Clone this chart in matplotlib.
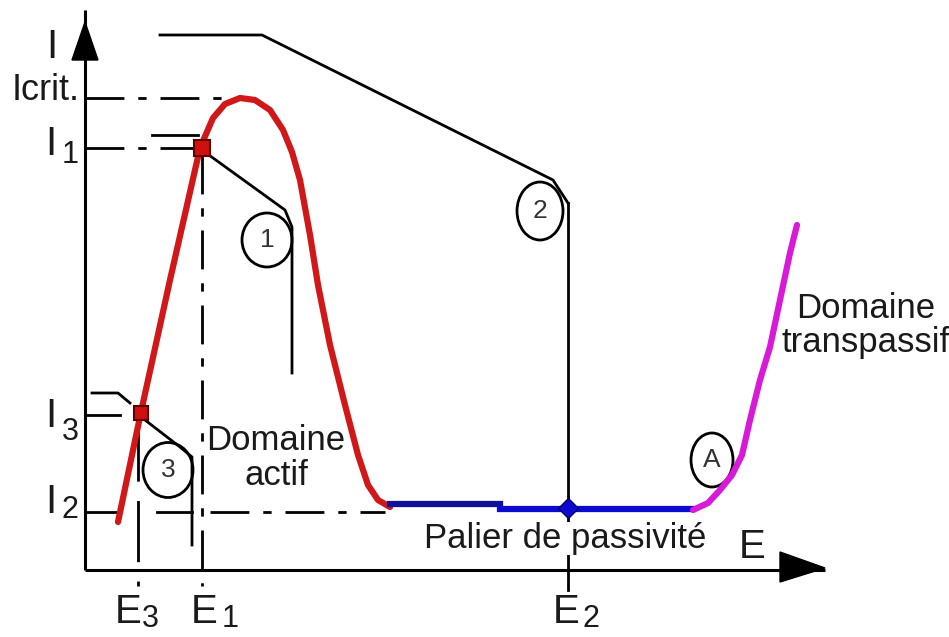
import matplotlib
matplotlib.use("Agg")
import matplotlib.pyplot as plt
from matplotlib.patches import Ellipse, Polygon

plt.rcParams['font.family'] = ['Liberation Sans', 'DejaVu Sans']

# courbe de polarisation (E en abscisse, I en ordonnée, unités arbitraires)
actif_E = [33, 56, 85, 115, 128, 140, 155, 170, 185, 198, 207, 215, 225, 233, 245, 260, 273, 283, 293, 305]
actif_I = [48, 158, 290, 422, 452, 466, 472, 470, 460, 440, 418, 390, 335, 285, 225, 165, 115, 85, 70, 63]

passif_E1 = [305, 415]
passif_I1 = [66, 66]
passif_E2 = [415, 608]
passif_I2 = [61, 61]

transp_E = [608, 623, 635, 647, 657, 665, 675, 685, 695, 705, 712]
transp_I = [60, 67, 80, 95, 115, 150, 190, 223, 270, 317, 345]

# niveaux caractéristiques
I_crit = 472
I_1 = 422
I_2 = 58
I_3 = 155
E_1 = 117
E_2 = 483
E_3 = 53

# points repérés sur la courbe
pt1 = (E_1, I_1)
pt3 = (56, 157)
pt2 = (E_2, 62)

fig = plt.figure(figsize=(9.49, 6.37), dpi=100)
ax = fig.add_axes([0, 0, 1, 1])
ax.set_xlim(-85, 864)
ax.set_ylim(-67, 570)
ax.axis('off')

k = 'black'
dashdot = (0, (14, 5, 3, 5))

# axes avec flèches
ax.plot([0, 0], [0, 560], color=k, lw=2.2, solid_capstyle='butt')
ax.plot([0, 740], [0, 0], color=k, lw=2.2, solid_capstyle='butt')
ax.add_patch(Polygon([[0, 548], [-13, 510], [13, 510]], closed=True, color=k))
ax.add_patch(Polygon([[740, 2], [695, 18], [695, -12]], closed=True, color=k))

# lignes de repère
ax.plot([0, 155], [I_crit, I_crit], color=k, lw=2, ls=dashdot)
ax.plot([0, E_1], [I_1, I_1], color=k, lw=2, ls=dashdot)
ax.plot([0, 35], [I_3, I_3], color=k, lw=2)
ax.plot([0, 32], [I_2, I_2], color=k, lw=2)
ax.plot([72, 107], [I_2, I_2], color=k, lw=2)
ax.plot([125, 300], [I_2, I_2], color=k, lw=2, ls=dashdot)
ax.plot([E_1, E_1], [415, -16], color=k, lw=2, ls=dashdot)
ax.plot([E_3, E_3], [150, -16], color=k, lw=2, ls=(0, (22, 7)))
ax.plot([E_2, E_2], [367, -20], color=k, lw=2)

# traits de rappel vers les cercles
ax.plot([67, 113], [435, 435], color=k, lw=2)
ax.plot([E_1, 200, 207, 207], [420, 360, 343, 197], color=k, lw=2)
ax.plot([75, 177, 468, E_2], [535, 535, 390, 367], color=k, lw=2)
ax.plot([7, 33, 45], [177, 177, 167], color=k, lw=2)
ax.plot([60, 95, 107, 107], [150, 123, 113, 25], color=k, lw=2)

# cercles numérotés
cercles = [(182, 330, 50, 54, '1'), (455, 359, 46, 58, '2'),
           (83, 100, 50, 55, '3'), (627, 110, 42, 54, 'A')]
for cx, cy, w, h, lab in cercles:
    ax.add_patch(Ellipse((cx, cy), w, h, fill=False, ec=k, lw=2, zorder=3))
    ax.text(cx, cy, lab, ha='center', va='center', fontsize=19, color='#333333', zorder=4)

# courbe
ax.plot(actif_E, actif_I, color='#d01818', lw=4.5, solid_joinstyle='round', solid_capstyle='round', zorder=5)
ax.plot(passif_E1, passif_I1, color='#10109a', lw=4.5, zorder=5)
ax.plot(passif_E2, passif_I2, color='#0a0ad0', lw=4.5, zorder=5)
ax.plot(transp_E, transp_I, color='#d81ad8', lw=4.5, solid_joinstyle='round', solid_capstyle='round', zorder=5)

ax.plot(*pt1, marker='s', ms=11, color='#d01010', mec='#600000', mew=1.5, zorder=6)
ax.plot(*pt3, marker='s', ms=10, color='#d01010', mec='#600000', mew=1.5, zorder=6)
ax.plot(*pt2, marker='D', ms=10, color='#0a0ad0', mec='#000060', mew=1, zorder=6)

# étiquettes
txt = '#1a1a1a'
big = 29
sub = 22
ax.text(-33, 512, 'I', ha='center', va='baseline', fontsize=big, color=txt)
ax.text(-73, 470, 'Icrit.', ha='left', va='baseline', fontsize=26, color=txt)
for y_I, y_s, s in [(415, 407, '1'), (143, 130, '3'), (57, 52, '2')]:
    ax.text(-34, y_I, 'I', ha='center', va='baseline', fontsize=big, color=txt)
    ax.text(-15, y_s, s, ha='center', va='baseline', fontsize=sub, color=txt)
for xE, xs, s in [(43, 65, '3'), (119, 145, '1'), (481, 506, '2')]:
    ax.text(xE, -53, 'E', ha='center', va='baseline', fontsize=big, color=txt)
    ax.text(xs, -57, s, ha='center', va='baseline', fontsize=sub, color=txt)
ax.text(667, 12, 'E', ha='center', va='baseline', fontsize=big, color=txt)

ax.text(191, 120, 'Domaine', ha='center', va='baseline', fontsize=25, color=txt)
ax.text(191, 85, 'actif', ha='center', va='baseline', fontsize=25, color=txt)
ax.text(781, 252, 'Domaine', ha='center', va='baseline', fontsize=25, color=txt)
ax.text(781, 218, 'transpassif', ha='center', va='baseline', fontsize=25, color=txt)
ax.text(480, 22, 'Palier de passivité', ha='center', va='baseline', fontsize=25, color=txt,
        bbox=dict(fc='white', ec='none', pad=0), zorder=7)

plt.savefig('out.png', dpi=100)
